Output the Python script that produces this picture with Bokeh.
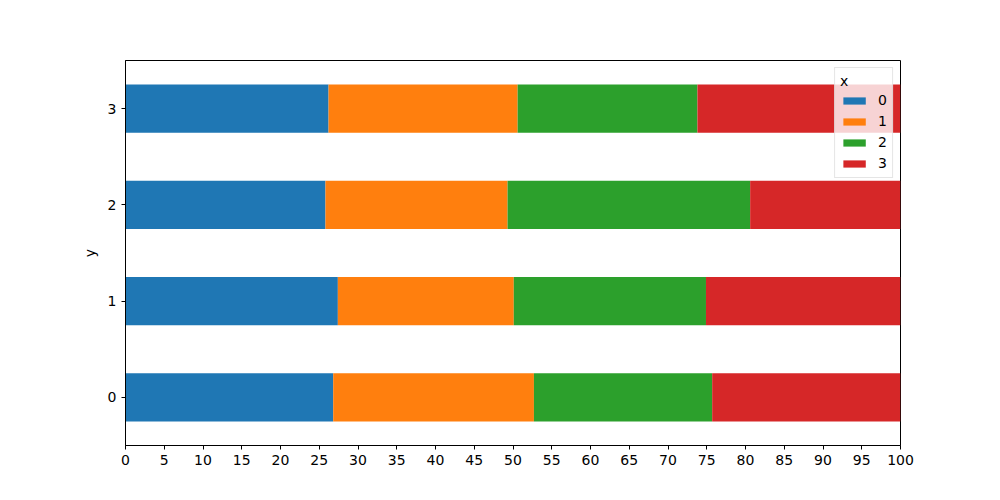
from bokeh.plotting import figure
from bokeh.models import ColumnDataSource, Range1d, FixedTicker
from bokeh.embed import file_html
from bokeh.resources import INLINE

y = [0, 1, 2, 3]
s0 = [26.8, 27.4, 25.8, 26.2]
s1 = [25.9, 22.7, 23.5, 24.4]
s2 = [23.0, 24.8, 31.3, 23.2]
s3 = [24.3, 25.1, 19.4, 26.2]
series_labels = ["0", "1", "2", "3"]
colors = ["#1f77b4", "#ff7f0e", "#2ca02c", "#d62728"]
x_ticks = list(range(0, 101, 5))

source = ColumnDataSource(dict(y=y, s0=s0, s1=s1, s2=s2, s3=s3))

p = figure(frame_width=775, frame_height=385, output_backend="svg",
           toolbar_location=None, x_range=Range1d(0, 100), y_range=Range1d(-0.5, 3.5))
p.min_border_left = 125
p.min_border_right = 84
p.min_border_top = 60
p.min_border_bottom = 39

p.hbar_stack(["s0", "s1", "s2", "s3"], y="y", height=0.5, color=colors,
             source=source, legend_label=series_labels, line_width=0)

p.xgrid.visible = False
p.ygrid.visible = False
p.outline_line_color = "black"
p.outline_line_width = 1

for ax in (p.xaxis[0], p.yaxis[0]):
    ax.major_label_text_font = "DejaVu Sans"
    ax.major_label_text_font_size = "14px"
    ax.major_label_text_color = "black"
    ax.major_tick_in = 0
    ax.major_tick_out = 4
    ax.major_label_standoff = 5
    ax.minor_tick_line_color = None
    ax.axis_line_color = "black"
    ax.major_tick_line_color = "black"

p.xaxis.ticker = FixedTicker(ticks=x_ticks)
p.yaxis.ticker = FixedTicker(ticks=y)
p.yaxis.axis_label = "y"
p.yaxis.axis_label_text_font = "DejaVu Sans"
p.yaxis.axis_label_text_font_size = "14px"
p.yaxis.axis_label_text_font_style = "normal"
p.yaxis.axis_label_text_color = "black"
p.yaxis.axis_label_standoff = 7
p.yaxis.major_label_orientation = 0

lg = p.legend[0]
lg.title = "x"
lg.title_text_font = "DejaVu Sans"
lg.title_text_font_size = "14px"
lg.title_text_font_style = "normal"
lg.title_text_color = "black"
lg.location = "top_right"
lg.margin = 7
lg.padding = 5
lg.spacing = 3
lg.glyph_width = 28
lg.glyph_height = 9
lg.label_height = 18
lg.label_width = 8
lg.label_text_font = "DejaVu Sans"
lg.label_text_font_size = "14px"
lg.label_text_color = "black"
lg.label_standoff = 10
lg.background_fill_alpha = 0.8
lg.border_line_color = "#cccccc"
lg.title_standoff = 2

open("out.html", "w").write(file_html(p, INLINE))
